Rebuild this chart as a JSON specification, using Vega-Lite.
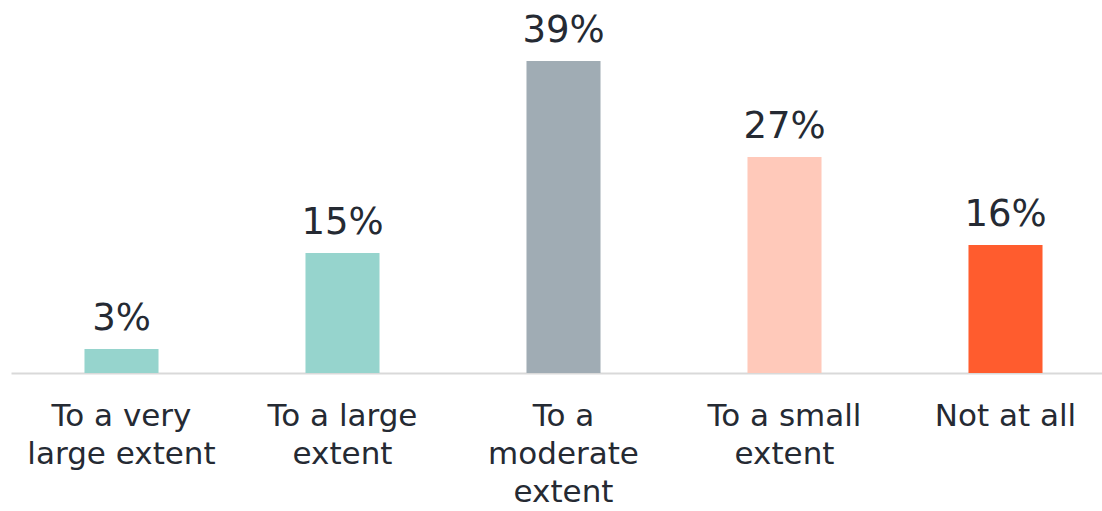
{
  "$schema": "https://vega.github.io/schema/vega-lite/v6.json",
  "autosize": "none",
  "width": 1105,
  "height": 312,
  "padding": {"left": 11, "top": 61, "right": 0, "bottom": 138},
  "background": "white",
  "config": {"view": {"stroke": null}, "font": "DejaVu Sans"},
  "data": {
    "values": [
      {"extent": "To a very|large extent", "share": 3, "color": "#96D4CD"},
      {"extent": "To a large|extent", "share": 15, "color": "#96D4CD"},
      {"extent": "To a|moderate|extent", "share": 39, "color": "#A0ACB4"},
      {"extent": "To a small|extent", "share": 27, "color": "#FFC9BA"},
      {"extent": "Not at all", "share": 16, "color": "#FF5C2E"}
    ]
  },
  "transform": [{"calculate": "datum.share + '%'", "as": "shareLabel"}],
  "encoding": {
    "x": {
      "field": "extent",
      "type": "nominal",
      "sort": null,
      "scale": {"paddingInner": 0.665, "paddingOuter": 0.3325},
      "axis": {
        "title": null,
        "labelAngle": 0,
        "labelExpr": "split(datum.label, '|')",
        "labelFont": "DejaVu Sans",
        "labelFontSize": 31,
        "labelLineHeight": 38,
        "labelColor": "#252A33",
        "labelPadding": 28,
        "labelLimit": 0,
        "ticks": false,
        "domainColor": "#D9D9D9",
        "domainWidth": 2
      }
    },
    "y": {
      "field": "share",
      "type": "quantitative",
      "scale": {"domain": [0, 39], "nice": false},
      "axis": null
    }
  },
  "layer": [
    {
      "mark": {"type": "bar"},
      "encoding": {"color": {"field": "color", "type": "nominal", "scale": null}}
    },
    {
      "mark": {"type": "text", "baseline": "alphabetic", "dy": -19, "fontSize": 37, "color": "#252A33", "font": "DejaVu Sans"},
      "encoding": {"text": {"field": "shareLabel", "type": "nominal"}}
    }
  ]
}
